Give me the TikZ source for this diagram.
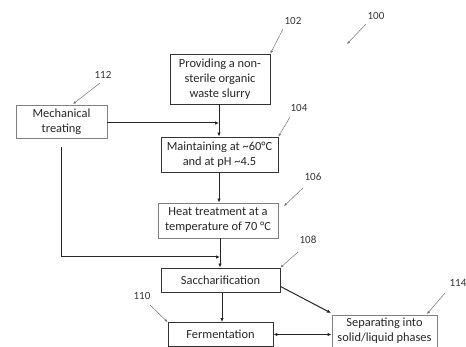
\documentclass[tikz,border=0pt]{standalone}
\usepackage{fontspec}
\setmainfont{Carlito}
\usetikzlibrary{arrows.meta}
\begin{document}
\begin{tikzpicture}[x=1pt,y=-1pt,
  font=\fontsize{12.4}{15}\selectfont,
  box/.style={draw=black!80,line width=0.9pt,align=center,inner sep=0pt,text=black!85},
  gbox/.style={box,draw=black!50,line width=0.8pt},
  flow/.style={line width=1pt,draw=black!85,-{Latex[length=4pt,width=3.5pt]}},
  lbl/.style={font=\fontsize{11}{12}\selectfont,text=black!80},
  ptr/.style={draw=black!55,line width=0.5pt,-{Latex[length=3pt,width=2.5pt]}}]
\useasboundingbox (0,0) rectangle (466,347);
\node[box,minimum width=100pt,minimum height=50pt] (b102) at (220,79) {Providing a non-\\sterile organic\\waste slurry};
\node[gbox,minimum width=91pt,minimum height=33pt] (b112) at (61.5,121.5) {Mechanical\\treating};
\node[box,minimum width=117pt,minimum height=35pt] (b104) at (219.5,154.5) {Maintaining at \textasciitilde60°C\\and at pH \textasciitilde4.5};
\node[gbox,minimum width=120pt,minimum height=35pt] (b106) at (218,220.5) {Heat treatment at a\\temperature of 70 °C};
\node[box,minimum width=119pt,minimum height=24pt] (b108) at (220.5,280) {Saccharification};
\node[box,minimum width=105pt,minimum height=24pt] (b110) at (220.5,334.5) {Fermentation};
\node[gbox,minimum width=105pt,minimum height=32pt] (b114) at (384.5,331) {Separating into\\solid/liquid phases};

% numeric labels
\node[lbl] (n100) at (376,16) {100};
\node[lbl] (n102) at (293,21) {102};
\node[lbl] (n104) at (299,108) {104};
\node[lbl] (n106) at (313,177) {106};
\node[lbl] (n108) at (308,240) {108};
\node[lbl] (n110) at (142,296) {110};
\node[lbl] (n112) at (103,75) {112};
\node[lbl] (n114) at (458,283) {114};
\coordinate (t100) at (347,44);
\draw[ptr] (366,24) -- (t100);
\draw[ptr] (283,29) -- (b102.north east);
\draw[ptr] (290,117) -- (b104.north east);
\draw[ptr] (303,188) -- (284,206);
\draw[ptr] (298,252) -- (b108.north east);
\draw[ptr] (150,305) -- (b110.north west);
\draw[ptr] (100,83) -- (73,104);
\draw[ptr] (445,293) -- (427,314);

% flow
\coordinate (j1) at (219,123);
\draw[flow] (b102.south -| j1) -- (b104.north -| j1);
\draw[flow] (b112.east |- j1) -- (j1);
\draw[flow] (b104.south -| j1) -- (b106.north -| j1);
\coordinate (m0) at (61,147);
\coordinate (j2) at (220,257);
\draw[flow] (m0) -- (m0 |- j2) -- (j2);
\draw[flow] (b106.south -| j2) -- (b108.north -| j2);
\draw[flow] (b108.south -| 222,0) -- (b110.north -| 222,0);
\draw[flow] (b108.south east) ++(0,-6) -- (331,313);
\draw[line width=1pt,draw=black!85,{Latex[length=4pt,width=3.5pt]}-{Latex[length=4pt,width=3.5pt]}] (b110.east) -- (b110.east -| b114.west);
\end{tikzpicture}
\end{document}
